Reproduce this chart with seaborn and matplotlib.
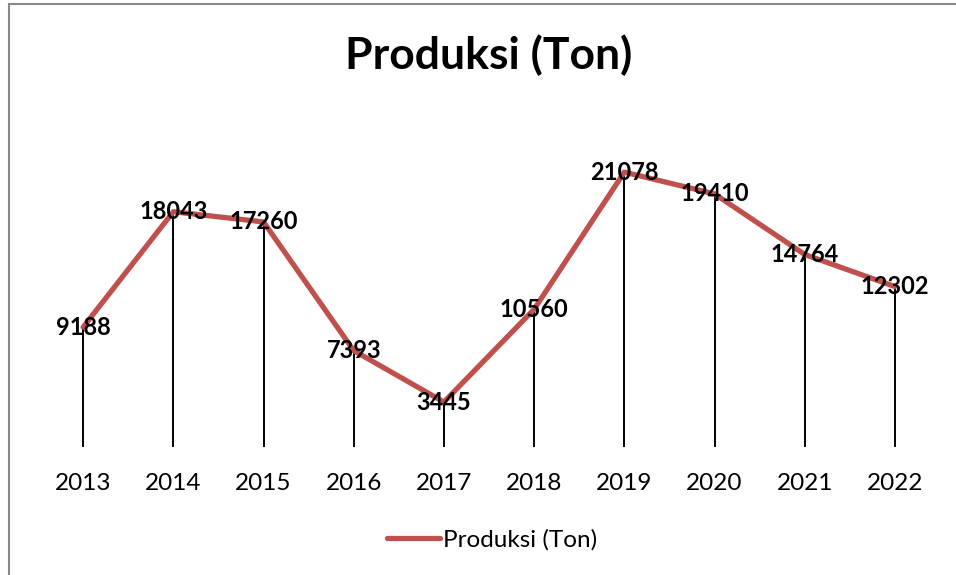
import numpy as np
import matplotlib
matplotlib.use("Agg")
import matplotlib.pyplot as plt
import seaborn as sns
from matplotlib.lines import Line2D

# Datos del grafico
tahun = ["2013", "2014", "2015", "2016", "2017", "2018", "2019", "2020", "2021", "2022"]
produksi = [9188, 18043, 17260, 7393, 3445, 10560, 21078, 19410, 14764, 12302]

sns.set_style("white")
plt.rcParams["font.family"] = ["Lato", "DejaVu Sans"]
plt.rcParams["text.color"] = "black"
plt.rcParams["xtick.color"] = "black"

fig = plt.figure(figsize=(9.56, 5.75), dpi=100)
ax = fig.add_axes([38 / 956, 1 - 447 / 575, 902 / 956, 326 / 575])

pos = np.arange(len(tahun))

# Lineas verticales (drop lines)
ax.vlines(pos, 0, produksi, color="black", linewidth=1.4, zorder=1)

# Linea principal
sns.lineplot(x=pos, y=produksi, ax=ax, color="#C0504D", linewidth=3.8,
             label="Produksi (Ton)", zorder=2,
             solid_capstyle="round", solid_joinstyle="round")

# Etiquetas de datos
for x, v in zip(pos, produksi):
    ax.text(x, v, str(v), ha="center", va="center", fontsize=17,
            fontweight="bold", color="black", zorder=3)

ax.set_xlim(-0.5, len(tahun) - 0.5)
ax.set_ylim(0, 25000)
ax.set_xticks(pos)
ax.set_xticklabels(tahun, fontsize=17.5)
ax.tick_params(axis="x", length=0, pad=19, labelcolor="black")
ax.set_yticks([])
for s in ax.spines.values():
    s.set_visible(False)

# Titulo
fig.text(489 / 956, 1 - 55 / 575, "Produksi (Ton)", ha="center", va="center",
         fontsize=32, fontweight="bold", color="black")

# Leyenda abajo
leg = ax.legend(loc="center", bbox_to_anchor=(492 / 956, 1 - 540 / 575),
                bbox_transform=fig.transFigure, frameon=False, fontsize=17.5,
                handlelength=2.2, handletextpad=0.1)
for t in leg.get_texts():
    t.set_color("black")

# Borde del area del grafico
fig.add_artist(Line2D([8.5 / 956, 8.5 / 956], [0, 1 - 3.5 / 575],
                      transform=fig.transFigure, color="#888888", linewidth=1.5))
fig.add_artist(Line2D([8.5 / 956, 1], [1 - 3.5 / 575, 1 - 3.5 / 575],
                      transform=fig.transFigure, color="#888888", linewidth=1.5))

fig.savefig("out.png", dpi=100)
